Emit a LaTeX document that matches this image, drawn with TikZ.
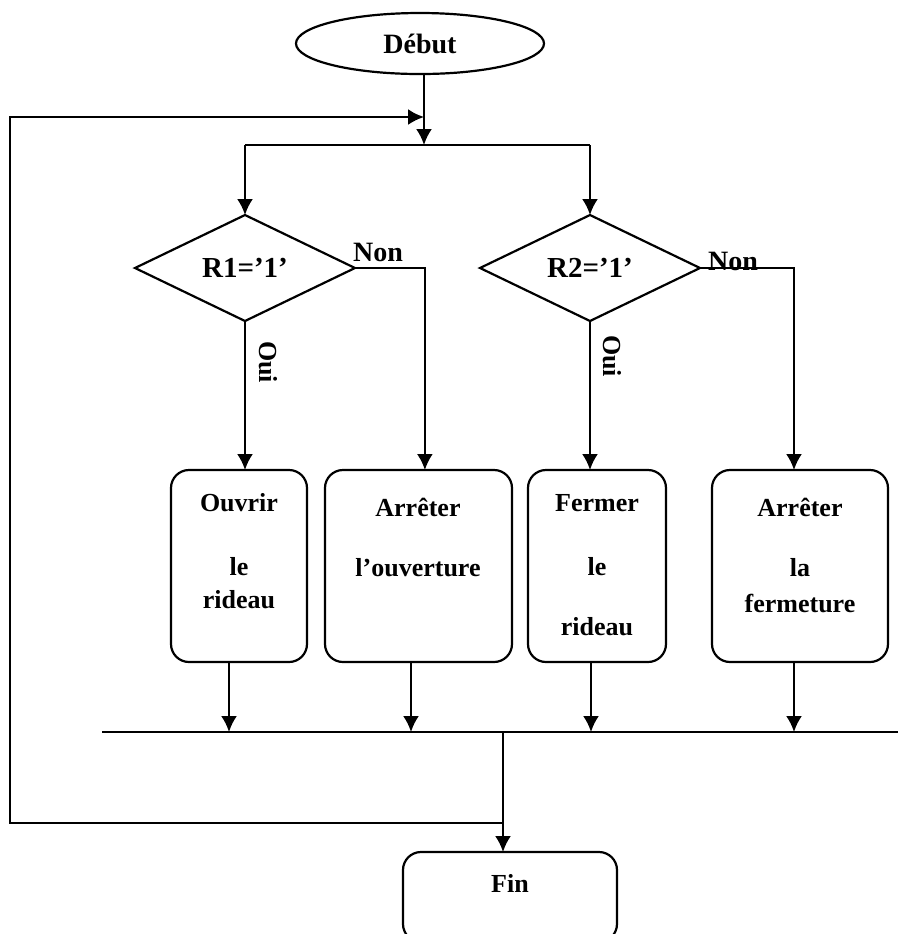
\documentclass[tikz,border=0pt]{standalone}
\usepackage{fontspec}
\setmainfont{Liberation Serif}
\usetikzlibrary{shapes.geometric,arrows.meta}
\begin{document}
\begin{tikzpicture}[x=0.5pt,y=-0.5pt,
  every node/.style={font=\fontsize{13}{15}\selectfont\bfseries, inner sep=0pt, outer sep=0pt},
  big/.style={font=\fontsize{14}{16}\selectfont\bfseries},
  ln/.style={line width=1.1pt},
  arr/.style={ln,-{Latex[length=8pt,width=8pt]}},
  box/.style={draw,line width=1.1pt,rounded corners=9pt,anchor=north west},
  dia/.style={draw,line width=1.1pt,diamond,minimum width=110pt,minimum height=53pt,aspect=2.1,font=\fontsize{14.5}{16}\selectfont\bfseries}]
\clip (0,0) rectangle (898,934);
\useasboundingbox (0,0) rectangle (898,934);
% start
\node[draw,ellipse,line width=1.1pt,minimum width=124pt,minimum height=30.5pt,big] (deb) at (420,43.5) {Début};
\coordinate (j1) at (424,117);
\coordinate (j2) at (424,145);
% decisions
\node[dia] (d1) at (245,268) {R1=’1’};
\node[dia] (d2) at (590,268) {R2=’1’};
\coordinate (s1) at (d1.north |- j2);
\coordinate (s2) at (d2.north |- j2);
% boxes
\node[box,minimum width=68pt,minimum height=96pt] (b1) at (171,470) {};
\node[box,minimum width=93.5pt,minimum height=96pt] (b2) at (325,470) {};
\node[box,minimum width=69pt,minimum height=96pt] (b3) at (528,470) {};
\node[box,minimum width=88pt,minimum height=96pt] (b4) at (712,470) {};
\node[box,minimum width=107pt,minimum height=45pt] (fin) at (403,852) {};
% texts
\node (t1a) at (239,503) {Ouvrir};
\node (t1b) at (239,567) {le};
\node (t1c) at (239,600) {rideau};
\node (t2a) at (418,507) {Arrêter};
\node (t2b) at (418,568) {l’ouverture};
\node (t3a) at (597,503) {Fermer};
\node (t3b) at (597,567) {le};
\node (t3c) at (597,627) {rideau};
\node (t4a) at (800,507) {Arrêter};
\node (t4b) at (800,568) {la};
\node (t4c) at (800,603) {fermeture};
\node (tfin) at (510,883) {Fin};
% labels
\node[big] (n1) at (378,252) {Non};
\node[big] (n2) at (733,261) {Non};
\node[rotate=-90] (o1) at (268,362) {Oui};
\node[rotate=-90] (o2) at (612,356) {Oui};
% bus
\coordinate (busL) at (102,732);
\coordinate (busR) at (898,732);
\coordinate (busM) at (503,732);
\coordinate (loopA) at (503,823);
\coordinate (loopB) at (10,823);
\coordinate (loopC) at (10,117);
% connectors
\draw[arr] (deb.south -| j2) -- (j2);
\draw[ln] (s1) -- (s2);
\draw[arr] (s1) -- (d1.north);
\draw[arr] (s2) -- (d2.north);
\draw[arr] (d1.south) -- (d1.south |- b1.north);
\draw[arr] (d2.south) -- (d2.south |- b3.north);
\draw[arr] (d1.east) -| ([xshift=3.2pt]b2.north);
\draw[arr] (d2.east) -| ([xshift=-3pt]b4.north);
\draw[arr] ([xshift=-5pt]b1.south) -- ([xshift=-5pt]b1.south |- busL);
\draw[arr] ([xshift=-3.75pt]b2.south) -- ([xshift=-3.75pt]b2.south |- busL);
\draw[arr] ([xshift=-3pt]b3.south) -- ([xshift=-3pt]b3.south |- busL);
\draw[arr] ([xshift=-3pt]b4.south) -- ([xshift=-3pt]b4.south |- busL);
\draw[ln] (busL) -- (busR);
\draw[arr] (busM) -- (busM |- fin.north);
\draw[arr] (loopA) -- (loopB) -- (loopC) -- (j1);
\end{tikzpicture}
\end{document}
